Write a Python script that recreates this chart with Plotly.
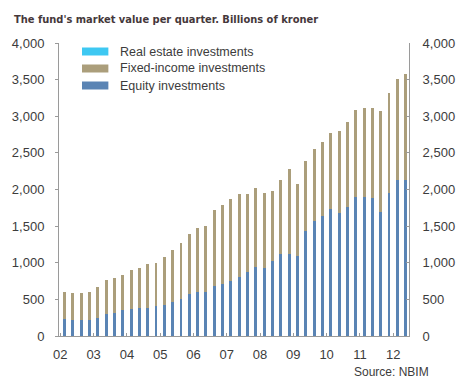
import plotly.graph_objects as go

# ---- data (billions of kroner, end of quarter) ----
years = list(range(2002, 2013))
year_labels = ["02", "03", "04", "05", "06", "07", "08", "09", "10", "11", "12"]
quarters = [f"{y} Q{q}" for y in range(2002, 2013) for q in range(1, 5)][:42]

total_value = [604, 586, 586, 595, 668, 759, 786, 832, 900, 932, 977, 1000,
               1082, 1173, 1273, 1391, 1477, 1500, 1714, 1782, 1873, 1936,
               1932, 2018, 1946, 1986, 2123, 2277, 2077, 2386, 2550, 2645,
               2768, 2800, 2918, 3086, 3114, 3118, 3068, 3323, 3514, 3577]
equity = [236, 218, 218, 218, 245, 305, 318, 350, 364, 377, 377, 405,
          423, 459, 509, 577, 600, 600, 682, 713, 745, 809,
          873, 945, 927, 1027, 1114, 1123, 1086, 1436, 1573, 1645,
          1732, 1673, 1759, 1891, 1895, 1882, 1695, 1955, 2123, 2123]
real_estate = [0] * 42  # too small to be visible at this scale
fixed_income = [t - e - r for t, e, r in zip(total_value, equity, real_estate)]

# ---- styling ----
C_EQ = "#5a84b4"
C_FI = "#ab9e7b"
C_RE = "#3ec8f2"
AX = "#9a9a9a"
TXT = "#3c3c3c"
FONT = "Liberation Sans, Arial, sans-serif"

xpos = [int(s[:4]) + (int(s[-1]) - 1) / 4 + 0.125 for s in quarters]
bw = 0.088

fig = go.Figure()
for name, vals, col in [("Equity investments", equity, C_EQ),
                        ("Fixed-income investments", fixed_income, C_FI),
                        ("Real estate investments", real_estate, C_RE)]:
    fig.add_trace(go.Bar(x=xpos, y=vals, name=name, marker_color=col,
                         marker_line_width=0, width=bw, showlegend=False,
                         customdata=quarters,
                         hovertemplate="%{customdata}: %{y}<extra>" + name + "</extra>"))

# invisible trace to anchor the right-hand axis
fig.add_trace(go.Scatter(x=[xpos[0]], y=[0], yaxis="y2", mode="markers",
                         marker_opacity=0, showlegend=False, hoverinfo="skip"))

L, R, T, B = 57, 52, 43, 46
W, H = 467, 382
pw, ph = W - L - R, H - T - B

def px(x):
    return (x - L) / pw

def py(y):
    return (H - B - y) / ph

shapes = []
annotations = []
legend_items = [("Real estate investments", C_RE, 51.5),
                ("Fixed-income investments", C_FI, 68.5),
                ("Equity investments", C_EQ, 85.5)]
for name, col, yc in legend_items:
    shapes.append(dict(type="rect", xref="paper", yref="paper",
                       x0=px(80.5), x1=px(107.5), y0=py(yc + 4), y1=py(yc - 4),
                       fillcolor=col, line_width=0))
    annotations.append(dict(text=name, xref="paper", yref="paper",
                            x=px(117), y=py(yc), xanchor="left", yanchor="middle",
                            showarrow=False, font=dict(size=12.5, color=TXT, family=FONT)))

annotations.append(dict(text="The fund's market value per quarter. Billions of kroner",
                        xref="paper", yref="paper", x=px(9), y=py(20),
                        xanchor="left", yanchor="middle", showarrow=False,
                        font=dict(size=11, color="#45383b",
                                  family="DejaVu Sans Condensed, Liberation Sans Narrow, sans-serif",
                                  weight="bold")))
annotations.append(dict(text="Source: NBIM", xref="paper", yref="paper",
                        x=px(437), y=py(372), xanchor="right", yanchor="middle",
                        showarrow=False, font=dict(size=12, color=TXT, family=FONT)))

fig.update_layout(
    width=W, height=H,
    margin=dict(l=L, r=R, t=T, b=B, pad=0),
    barmode="stack",
    plot_bgcolor="white", paper_bgcolor="white",
    font=dict(family=FONT, size=13, color=TXT),
    shapes=shapes, annotations=annotations,
    xaxis=dict(range=[2001.96, 2012.475], tickvals=years, ticktext=year_labels,
               showgrid=False, zeroline=False, showline=True, linecolor=AX,
               linewidth=1, ticks="inside", ticklen=3, tickcolor=AX,
               ticklabelstandoff=6, tickfont=dict(size=13, color=TXT)),
    yaxis=dict(range=[0, 4000], dtick=500, tickformat=",", showgrid=False,
               zeroline=False, showline=True, linecolor=AX, linewidth=1,
               ticks="outside", ticklen=3, tickcolor=AX, ticklabelstandoff=8,
               tickfont=dict(size=13, color=TXT)),
    yaxis2=dict(range=[0, 4000], dtick=500, tickformat=",", overlaying="y",
                side="right", showgrid=False, zeroline=False, showline=True,
                linecolor=AX, linewidth=1, ticks="inside", ticklen=3,
                tickcolor=AX, ticklabelstandoff=10,
                tickfont=dict(size=13, color=TXT)),
)

fig.write_html("out.html", config={"displayModeBar": False},
               post_script="document.body.style.margin='0';")
